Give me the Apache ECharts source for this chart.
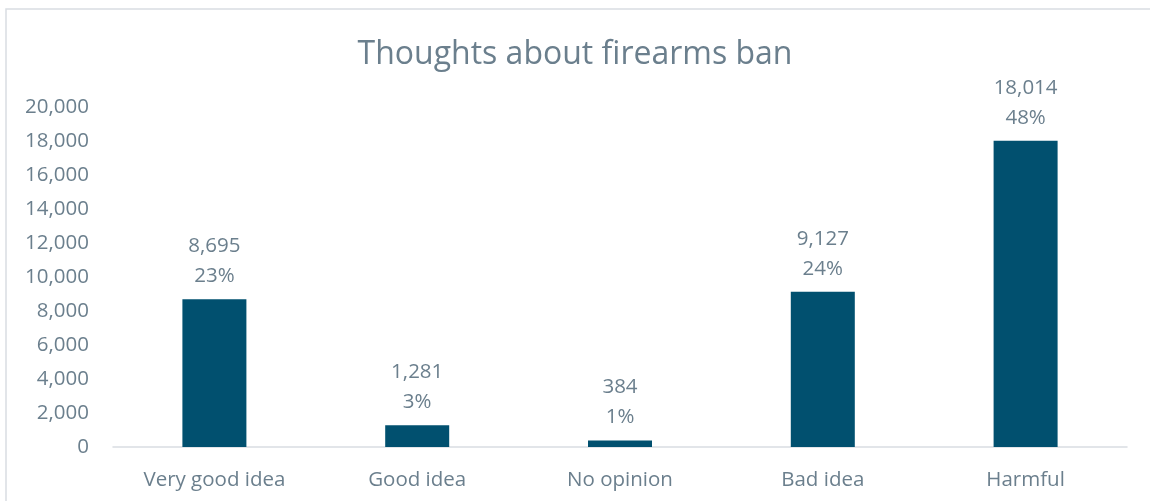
<!DOCTYPE html>
<html>
<head>
<meta charset="utf-8">
<style>
  html, body { margin: 0; padding: 0; background: #fff; }
  #chart { width: 1150px; height: 501px; }
</style>
<script src="https://cdn.jsdelivr.net/npm/echarts@6/dist/echarts.min.js"></script>
</head>
<body>
<div id="chart"></div>
<script>
// Survey responses on a firearms ban
const categories = ['Very good idea', 'Good idea', 'No opinion', 'Bad idea', 'Harmful'];
const counts = [8695, 1281, 384, 9127, 18014];
const shares = ['23%', '3%', '1%', '24%', '48%'];
const yTicks = [0, 2000, 4000, 6000, 8000, 10000, 12000, 14000, 16000, 18000, 20000];

const textColor = '#6b7f8d';
const font = '"Open Sans", "Noto Sans", sans-serif';

const chart = echarts.init(document.getElementById('chart'));
chart.setOption({
  animation: false,
  backgroundColor: '#fff',
  textStyle: { fontFamily: font },
  graphic: [{
    type: 'rect',
    shape: { x: 6, y: 9, width: 1160, height: 510 },
    style: { fill: 'none', stroke: '#d9dde2', lineWidth: 1.5 },
    silent: true,
    z: -1
  }],
  title: {
    text: 'Thoughts about firearms ban',
    left: 'center',
    top: 34,
    textStyle: { color: textColor, fontSize: 32, fontWeight: 'normal', fontFamily: font }
  },
  grid: { left: 113, right: 23, top: 107, bottom: 54, containLabel: false },
  xAxis: {
    type: 'category',
    data: categories,
    axisLine: { lineStyle: { color: '#d9dde2', width: 1.5 } },
    axisTick: { show: false },
    axisLabel: { color: textColor, fontSize: 20.5, margin: 23, fontFamily: font }
  },
  yAxis: {
    type: 'value',
    min: yTicks[0],
    max: yTicks[yTicks.length - 1],
    interval: yTicks[1] - yTicks[0],
    splitLine: { show: false },
    axisLine: { show: false },
    axisTick: { show: false },
    axisLabel: {
      color: textColor,
      fontSize: 20.5,
      margin: 24,
      fontFamily: font,
      formatter: v => v.toLocaleString('en-US')
    }
  },
  series: [{
    type: 'bar',
    data: counts,
    barWidth: 64,
    itemStyle: { color: '#01506f' },
    label: {
      show: true,
      position: 'top',
      distance: 8,
      color: textColor,
      fontSize: 20.5,
      lineHeight: 30,
      fontFamily: font,
      formatter: p => p.value.toLocaleString('en-US') + '\n' + shares[p.dataIndex]
    }
  }]
});
</script>
</body>
</html>
